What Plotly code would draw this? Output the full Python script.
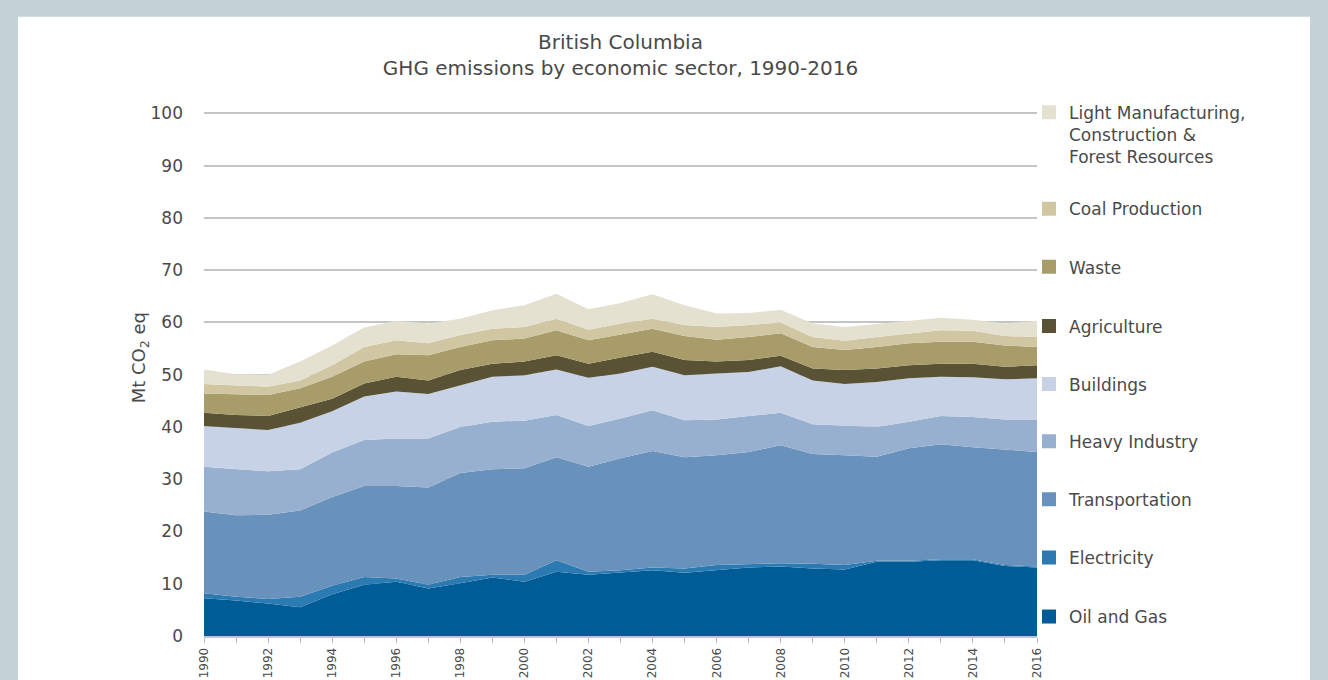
import plotly.graph_objects as go

years = list(range(1990, 2017))

oil_gas = [7.2, 6.8, 6.2, 5.5, 8.0, 9.8, 10.4, 9.1, 10.1, 11.2, 10.4, 12.3, 11.7, 12.1, 12.6,
           12.1, 12.6, 13.1, 13.3, 12.9, 12.7, 14.2, 14.2, 14.5, 14.5, 13.4, 13.1]
electricity = [1.0, 0.7, 0.9, 2.0, 1.6, 1.5, 0.6, 0.7, 1.2, 0.5, 1.3, 2.2, 0.6, 0.5, 0.5,
               0.8, 1.0, 0.7, 0.6, 0.9, 0.9, 0.2, 0.2, 0.2, 0.2, 0.2, 0.2]
transportation = [15.6, 15.6, 16.1, 16.5, 17.0, 17.4, 17.7, 18.6, 19.9, 20.2, 20.4, 19.7, 20.1, 21.4, 22.3,
                  21.3, 21.0, 21.4, 22.6, 21.0, 21.0, 19.9, 21.5, 22.0, 21.4, 22.1, 21.9]
heavy_industry = [8.6, 8.8, 8.3, 7.9, 8.5, 8.8, 9.1, 9.4, 8.8, 9.1, 9.1, 8.1, 7.8, 7.6, 7.8,
                  7.1, 6.8, 6.9, 6.2, 5.7, 5.7, 5.7, 5.1, 5.4, 5.8, 5.7, 6.2]
buildings = [7.8, 7.9, 7.9, 8.9, 7.9, 8.3, 9.0, 8.5, 8.0, 8.6, 8.7, 8.7, 9.2, 8.6, 8.3,
             8.6, 8.8, 8.4, 8.9, 8.4, 7.9, 8.6, 8.3, 7.5, 7.6, 7.7, 7.9]
agriculture = [2.5, 2.5, 2.7, 3.0, 2.4, 2.5, 2.8, 2.6, 2.9, 2.5, 2.6, 2.7, 2.7, 3.1, 2.9,
               2.9, 2.3, 2.3, 2.0, 2.3, 2.7, 2.6, 2.5, 2.5, 2.6, 2.4, 2.5]
waste = [3.7, 3.9, 4.0, 3.6, 4.2, 4.2, 4.3, 4.8, 4.4, 4.5, 4.4, 4.8, 4.5, 4.4, 4.4,
         4.6, 4.2, 4.4, 4.3, 4.1, 3.8, 4.1, 4.2, 4.2, 4.2, 4.1, 3.5]
coal_production = [1.8, 1.7, 1.6, 1.5, 2.2, 2.8, 2.7, 2.3, 2.3, 2.2, 2.2, 2.2, 2.0, 2.1, 1.9,
                   2.1, 2.4, 2.3, 2.1, 1.9, 1.8, 1.9, 1.9, 2.2, 2.1, 1.8, 1.9]
light_manufacturing = [2.8, 2.2, 2.3, 3.6, 3.8, 3.7, 3.7, 3.8, 3.1, 3.5, 4.2, 4.8, 3.9, 3.9, 4.7,
                       3.8, 2.6, 2.3, 2.4, 2.6, 2.6, 2.5, 2.4, 2.4, 2.1, 2.4, 3.1]

series_names = [
    "Oil and Gas", "Electricity", "Transportation", "Heavy Industry", "Buildings",
    "Agriculture", "Waste", "Coal Production",
    "Light Manufacturing,<br>Construction &<br>Forest Resources",
]
series_values = [oil_gas, electricity, transportation, heavy_industry, buildings,
                 agriculture, waste, coal_production, light_manufacturing]
series_colors = ["#005c97", "#2b7bb2", "#6892bb", "#97b0cf", "#c7d2e6",
                 "#5a5234", "#a79c6a", "#d0c7a2", "#e5e1d1"]
# vertical position (paper) of each legend entry, same order as series
legend_y = [0.0363, 0.1491, 0.2600, 0.3709, 0.4799, 0.5908, 0.7036, 0.8145, 1.033]

FONT = "DejaVu Sans, sans-serif"
TXT = "#4a4a4a"

fig = go.Figure()
for name, vals, col in zip(series_names, series_values, series_colors):
    fig.add_trace(go.Scatter(
        x=years, y=vals, name=name, stackgroup="one", mode="lines",
        line=dict(width=0, color=col), fillcolor=col, showlegend=False,
        hovertemplate="%{x}: %{y:.1f} Mt<extra>" + name.replace("<br>", " ") + "</extra>",
    ))

legend_layout = {}
for i, (name, col, ly) in enumerate(zip(series_names, series_colors, legend_y)):
    lid = "legend" if i == 0 else f"legend{i + 1}"
    fig.add_trace(go.Scatter(
        x=[None], y=[None], name=name, mode="markers",
        marker=dict(symbol="square", size=14, color=col),
        legend=lid, showlegend=True,
    ))
    legend_layout[lid] = dict(
        x=0.9904, xanchor="left", y=ly,
        yanchor="top" if i == len(series_names) - 1 else "middle",
        valign="top", bgcolor="rgba(0,0,0,0)",
        font=dict(family=FONT, size=17, color=TXT),
    )

# white panel over the grey-blue frame
fig.add_shape(type="rect", xref="paper", yref="paper",
              x0=-0.2233, x1=1.3277, y0=-0.2, y1=1.1816,
              fillcolor="white", line=dict(width=0), layer="below")

fig.add_annotation(text="Mt CO<sub>2</sub> eq", xref="paper", yref="paper",
                   x=-0.0768, xanchor="center", y=0.53, yanchor="middle",
                   textangle=-90, showarrow=False,
                   font=dict(family=FONT, size=18, color=TXT))

fig.update_layout(
    width=1328, height=680,
    paper_bgcolor="#c5d3d7", plot_bgcolor="rgba(0,0,0,0)",
    margin=dict(l=204, r=291, t=112, b=44, autoexpand=False),
    font=dict(family=FONT, color=TXT),
    title=dict(text="British Columbia<br>GHG emissions by economic sector, 1990-2016",
               xref="paper", x=0.5, xanchor="center",
               yref="container", y=1 - 49 / 680, yanchor="top",
               font=dict(family=FONT, size=20, color=TXT)),
    showlegend=True,
    xaxis=dict(range=[1990, 2016], tickmode="linear", tick0=1990, dtick=2,
               tickangle=-90, ticks="outside", ticklen=5, tickcolor="#b0b8bd",
               minor=dict(dtick=1, ticks="outside", ticklen=5, tickcolor="#b0b8bd"),
               showgrid=False, showline=True, linecolor="#b6c8d2", linewidth=2,
               tickfont=dict(family=FONT, size=12, color=TXT), zeroline=False),
    yaxis=dict(range=[0, 100.25], tickmode="linear", tick0=0, dtick=10,
               showgrid=True, gridcolor="#c4c4c4", gridwidth=1.5,
               zeroline=False, ticks="", ticklabelstandoff=20,
               tickfont=dict(family=FONT, size=17, color=TXT)),
    **legend_layout,
)

fig.write_html("out.html", config={"displayModeBar": False},
               post_script="document.body.style.margin='0';")
